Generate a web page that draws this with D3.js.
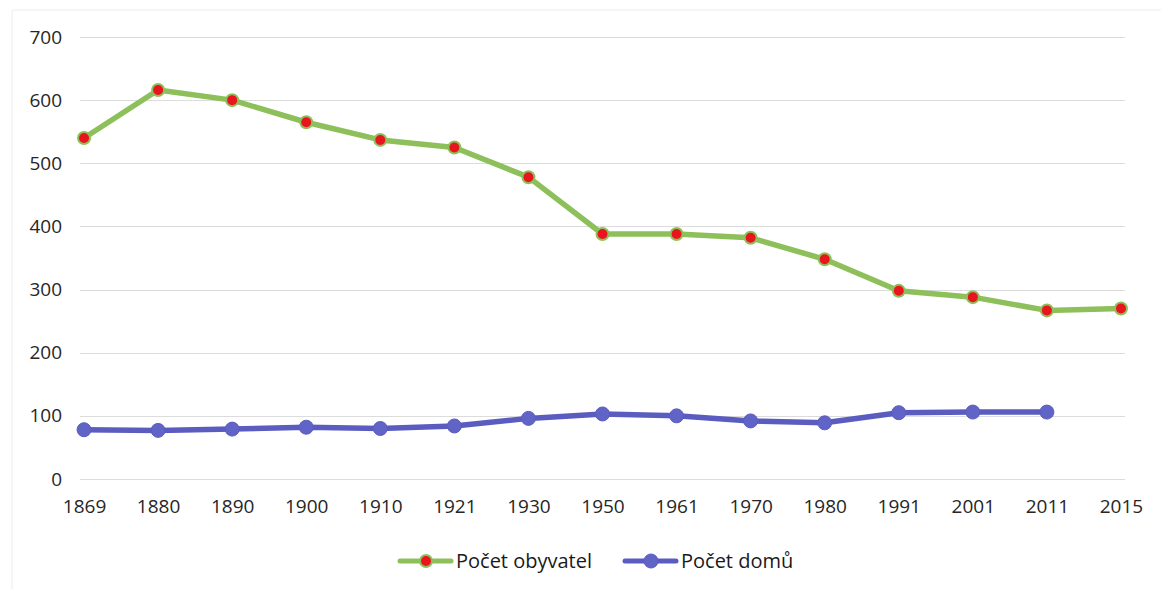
<!DOCTYPE html>
<html>
<head>
<meta charset="utf-8">
<script src="https://cdn.jsdelivr.net/npm/d3@7"></script>
<style>
  html, body { margin: 0; padding: 0; background: #fff; }
  svg { display: block; font-family: "Open Sans", "Liberation Sans", sans-serif; }
</style>
</head>
<body>
<svg id="chart" width="1161" height="589"></svg>
<script>
const years = ["1869","1880","1890","1900","1910","1921","1930","1950","1961","1970","1980","1991","2001","2011","2015"];
const population = [540, 616, 600, 565, 537, 525, 478, 388, 388, 382, 348, 298, 288, 267, 270];
const houses = [78, 77, 79, 82, 80, 84, 96, 103, 100, 92, 89, 105, 106, 106, null];
const yTicks = [0, 100, 200, 300, 400, 500, 600, 700];
const seriesNames = ["Počet obyvatel", "Počet domů"];

const svg = d3.select("#chart");
const W = 1161, H = 589;

// faint chart border
svg.append("line").attr("x1", 12).attr("x2", W).attr("y1", 10).attr("y2", 10)
  .attr("stroke", "#ececec").attr("stroke-width", 1);
svg.append("line").attr("x1", 12).attr("x2", 12).attr("y1", 10).attr("y2", H)
  .attr("stroke", "#ececec").attr("stroke-width", 1);

const x = d3.scalePoint().domain(years).range([47, 1158]).padding(0.5);
const y = d3.scaleLinear().domain([0, 700]).range([479, 37]);

const gx0 = x(years[0]) - 4, gx1 = x(years[years.length - 1]) + 4;

// gridlines
svg.append("g").selectAll("line").data(yTicks).join("line")
  .attr("x1", gx0).attr("x2", gx1)
  .attr("y1", d => Math.round(y(d)) + 0.5).attr("y2", d => Math.round(y(d)) + 0.5)
  .attr("stroke", "#dcdcdc").attr("stroke-width", 1);

// y axis
const yAxis = svg.append("g").attr("transform", `translate(${gx0},0)`)
  .call(d3.axisLeft(y).tickValues(yTicks).tickSize(0).tickPadding(18));
yAxis.select(".domain").remove();
yAxis.selectAll("text").attr("font-size", 19).attr("fill", "#262626")
  .attr("font-family", "'Open Sans', sans-serif");

// x axis
const xAxis = svg.append("g").attr("transform", `translate(0,${y(0)})`)
  .call(d3.axisBottom(x).tickSize(0).tickPadding(21));
xAxis.select(".domain").remove();
xAxis.selectAll("text").attr("font-size", 19).attr("fill", "#262626")
  .attr("font-family", "'Open Sans', sans-serif");

const green = "#8dc05a", red = "#e8141e", blue = "#5b5cbf", blueM = "#6064c6";

const lineGen = d3.line()
  .defined(d => d.v != null)
  .x(d => x(d.year)).y(d => y(d.v));

const popData = years.map((yr, i) => ({ year: yr, v: population[i] }));
const houseData = years.map((yr, i) => ({ year: yr, v: houses[i] })).filter(d => d.v != null);

// population line
svg.append("path").datum(popData)
  .attr("d", lineGen).attr("fill", "none")
  .attr("stroke", green).attr("stroke-width", 5.5).attr("stroke-linejoin", "round");
svg.append("g").selectAll("circle").data(popData).join("circle")
  .attr("cx", d => x(d.year)).attr("cy", d => y(d.v)).attr("r", 6)
  .attr("fill", red).attr("stroke", green).attr("stroke-width", 2);

// houses line
svg.append("path").datum(houseData)
  .attr("d", lineGen).attr("fill", "none")
  .attr("stroke", blue).attr("stroke-width", 5.5).attr("stroke-linejoin", "round");
svg.append("g").selectAll("circle").data(houseData).join("circle")
  .attr("cx", d => x(d.year)).attr("cy", d => y(d.v)).attr("r", 7)
  .attr("fill", blueM).attr("stroke", blue).attr("stroke-width", 1);

// legend
const legY = 561;
const leg = [
  { name: seriesNames[0], x0: 400, line: green, fill: red, stroke: green, r: 6, sw: 2 },
  { name: seriesNames[1], x0: 625, line: blue, fill: blueM, stroke: blue, r: 7, sw: 1 }
];
const lg = svg.append("g").selectAll("g").data(leg).join("g");
lg.append("line").attr("x1", d => d.x0).attr("x2", d => d.x0 + 51)
  .attr("y1", legY).attr("y2", legY)
  .attr("stroke", d => d.line).attr("stroke-width", 5).attr("stroke-linecap", "round");
lg.append("circle").attr("cx", d => d.x0 + 26).attr("cy", legY).attr("r", d => d.r)
  .attr("fill", d => d.fill).attr("stroke", d => d.stroke).attr("stroke-width", d => d.sw);
lg.append("text").attr("x", d => d.x0 + 56).attr("y", legY).attr("dy", "0.35em")
  .attr("font-size", 20).attr("fill", "#1a1a1a").text(d => d.name);
</script>
</body>
</html>
